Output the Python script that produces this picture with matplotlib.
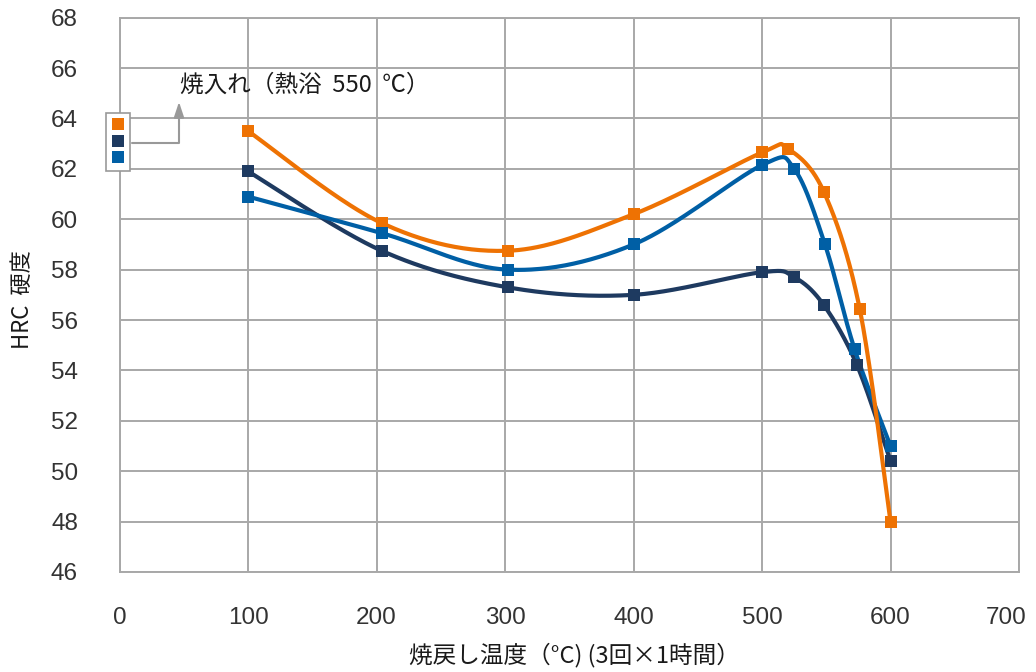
import numpy as np
import matplotlib
matplotlib.use("Agg")
import matplotlib.pyplot as plt
import matplotlib.transforms as mtransforms
from matplotlib.lines import Line2D

# ---- data ----
temp_orange = [100, 204, 302, 400, 500, 520, 548, 576, 600]
hrc_orange = [63.5, 59.85, 58.75, 60.2, 62.65, 62.8, 61.1, 56.45, 48.0]

temp_navy = [100, 204, 302, 400, 500, 525, 548, 574, 600]
hrc_navy = [61.9, 58.75, 57.3, 57.0, 57.9, 57.7, 56.6, 54.2, 50.4]

temp_blue = [100, 204, 302, 400, 500, 525, 549, 572, 600]
hrc_blue = [60.9, 59.45, 58.0, 59.0, 62.15, 62.0, 59.0, 54.85, 51.0]

x_ticks = [0, 100, 200, 300, 400, 500, 600, 700]
y_ticks = list(range(46, 69, 2))

annotation_text = "焼入れ（熱浴  550  ℃）"
x_label = "焼戻し温度（°C) (3回×1時間）"
y_label = "HRC  硬度"

c_orange = "#EE7203"
c_navy = "#1E3A60"
c_blue = "#005FA5"
grid_c = "#A8A8A8"

W, H = 1036, 672
fig = plt.figure(figsize=(W / 100, H / 100), dpi=100)
ax = fig.add_axes([119.6 / W, 1 - 572 / H, (1019 - 119.6) / W, (572 - 17.7) / H])
ax.set_xlim(0, 700)
ax.set_ylim(46, 68)
ax.set_xticks(x_ticks)
ax.set_yticks(y_ticks)
ax.grid(True, color=grid_c, linewidth=1.4)
ax.set_axisbelow(True)
for s in ax.spines.values():
    s.set_color(grid_c)
    s.set_linewidth(1.4)
ax.tick_params(length=0, labelsize=17.5, labelcolor="#333333")
ax.tick_params(axis="y", pad=30)
ax.tick_params(axis="x", pad=25)
for lab in ax.get_xticklabels() + ax.get_yticklabels():
    lab.set_family(["Liberation Sans", "DejaVu Sans"])
# keep the last x tick label inside the canvas
last = ax.get_xticklabels()[-1]
last.set_transform(last.get_transform() + mtransforms.ScaledTranslation(-0.13, 0, fig.dpi_scale_trans))

cjk = ["Noto Sans CJK JP", "DejaVu Sans"]


def smooth(xs, ys, n=60):
    pts = ax.transData.transform(np.column_stack([xs, ys]))
    P = np.vstack([pts[0], pts, pts[-1]])
    out = []
    t = np.linspace(0, 1, n)[:, None]
    for i in range(1, len(P) - 2):
        p0, p1, p2, p3 = P[i - 1], P[i], P[i + 1], P[i + 2]
        c1 = p1 + (p2 - p0) / 6.0
        c2 = p2 - (p3 - p1) / 6.0
        seg = ((1 - t) ** 3) * p1 + 3 * ((1 - t) ** 2) * t * c1 + 3 * (1 - t) * t ** 2 * c2 + t ** 3 * p2
        out.append(seg if i == 1 else seg[1:])
    seg = np.vstack(out)
    d = ax.transData.inverted().transform(seg)
    return d[:, 0], d[:, 1]


series = [
    (temp_navy, hrc_navy, c_navy, 3),
    (temp_blue, hrc_blue, c_blue, 4),
    (temp_orange, hrc_orange, c_orange, 5),
]
for xs, ys, c, z in series:
    sx, sy = smooth(xs, ys)
    ax.plot(sx, sy, color=c, linewidth=3.0, zorder=z, solid_capstyle="round")
for xs, ys, c, z in [(temp_orange, hrc_orange, c_orange, 6),
                     (temp_navy, hrc_navy, c_navy, 7),
                     (temp_blue, hrc_blue, c_blue, 8)]:
    ax.plot(xs, ys, linestyle="none", marker="s", markersize=9.2,
            color=c, markeredgewidth=0, zorder=z)

ax.set_xlabel(x_label, fontsize=17, family=cjk, color="#1a1a1a")
ax.xaxis.label.set_verticalalignment("center")
ax.xaxis.set_label_coords((574 - 119.6) / (1019 - 119.6), -(655 - 572) / (572 - 17.7))
ax.set_ylabel(y_label, fontsize=16, family=cjk, color="#1a1a1a")
ax.yaxis.label.set_verticalalignment("center")
ax.yaxis.set_label_coords(-(119.6 - 23) / (1019 - 119.6), (572 - 300) / (572 - 17.7))

# legend-like key with three markers
handles = [Line2D([], [], linestyle="none", marker="s", markersize=9.2,
                  color=c, markeredgewidth=0) for c in (c_orange, c_navy, c_blue)]
leg = fig.legend(handles, ["", "", ""], loc="upper left",
                 bbox_to_anchor=(105.7 / W, 1 - 113.3 / H),
                 handlelength=1.0, handleheight=1.0, handletextpad=0.0,
                 labelspacing=0.1, markerscale=1.0,
                 borderpad=0.3, borderaxespad=0, fontsize=11,
                 frameon=True, fancybox=False, framealpha=1)
leg.get_frame().set_edgecolor("#999999")
leg.get_frame().set_linewidth(1.2)

ax.annotate("", xy=(179 / W, 1 - 102 / H), xytext=(131.7 / W, 1 - 142.7 / H),
            xycoords="figure fraction", textcoords="figure fraction",
            arrowprops=dict(arrowstyle="-|>,head_length=0.9,head_width=0.3",
                            connectionstyle="angle,angleA=0,angleB=90,rad=0",
                            color="#999999", lw=1.5, shrinkA=0, shrinkB=0))
fig.text(180 / W, 1 - 85 / H, annotation_text, fontsize=17, family=cjk,
         ha="left", va="center", color="#1a1a1a")

fig.savefig("out.png", dpi=100)
